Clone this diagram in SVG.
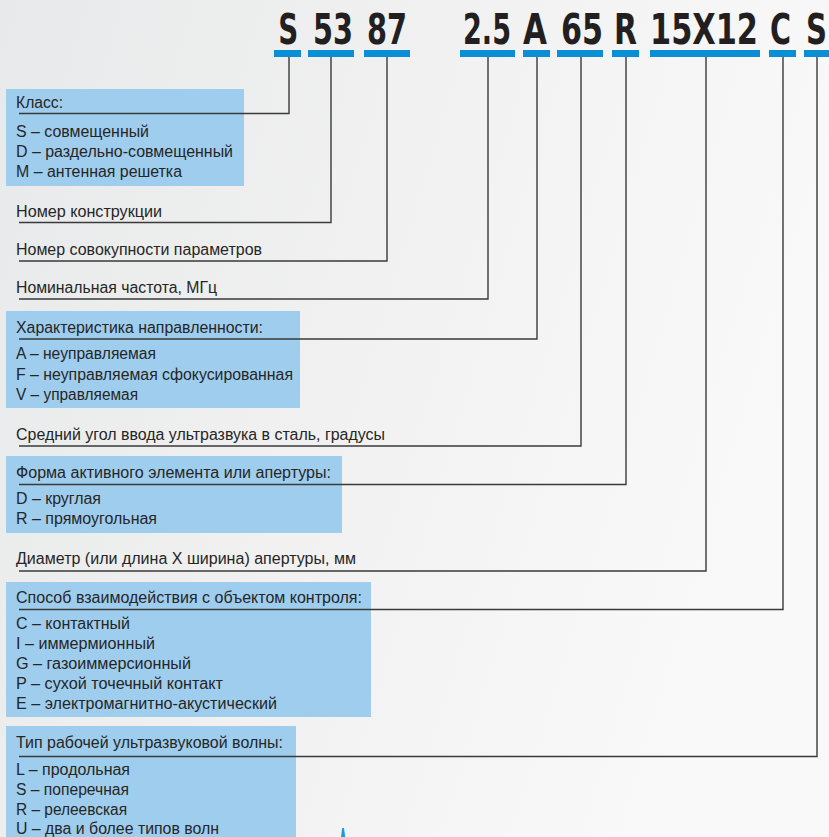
<svg xmlns="http://www.w3.org/2000/svg" width="829" height="837" viewBox="0 0 829 837">
<defs>
<linearGradient id="bg" x1="0" y1="0" x2="1" y2="0.3">
<stop offset="0" stop-color="#e8e9ea"/>
<stop offset="0.5" stop-color="#f1f1f1"/>
<stop offset="1" stop-color="#f9f9f9"/>
</linearGradient>
<style>
.hd{font-family:"Liberation Sans Narrow","DejaVu Sans Condensed","Liberation Sans",sans-serif;font-weight:bold;font-size:43px;fill:#231f20;text-anchor:middle}
.bar{fill:#0a8fd6}
.box{fill:#9fcdee}
.t{font-family:"Liberation Sans",Arial,sans-serif;font-size:16px;fill:#262626}
.c{fill:none;stroke:#3a3a3a;stroke-width:1.4}
</style>
</defs>
<rect width="829" height="837" fill="url(#bg)"/>

<g id="header">
<text class="hd" x="288.3" y="44" textLength="20" lengthAdjust="spacingAndGlyphs">S</text>
<text class="hd" x="333" y="44" textLength="40" lengthAdjust="spacingAndGlyphs">53</text>
<text class="hd" x="387" y="44" textLength="40" lengthAdjust="spacingAndGlyphs">87</text>
<text class="hd" x="487" y="44" textLength="48" lengthAdjust="spacingAndGlyphs">2.5</text>
<text class="hd" x="535" y="44" textLength="24" lengthAdjust="spacingAndGlyphs">A</text>
<text class="hd" x="582" y="44" textLength="42" lengthAdjust="spacingAndGlyphs">65</text>
<text class="hd" x="625.5" y="44" textLength="23" lengthAdjust="spacingAndGlyphs">R</text>
<text class="hd" x="704" y="44" textLength="108" lengthAdjust="spacingAndGlyphs">15X12</text>
<text class="hd" x="780.5" y="44" textLength="21" lengthAdjust="spacingAndGlyphs">C</text>
<text class="hd" x="816.5" y="44" textLength="21" lengthAdjust="spacingAndGlyphs">S</text>
<rect class="bar" x="274" y="50" width="27" height="7"/>
<rect class="bar" x="308" y="50" width="46" height="7"/>
<rect class="bar" x="364" y="50" width="46" height="7"/>
<rect class="bar" x="460" y="50" width="55" height="7"/>
<rect class="bar" x="523" y="50" width="27" height="7"/>
<rect class="bar" x="557" y="50" width="46" height="7"/>
<rect class="bar" x="612" y="50" width="27" height="7"/>
<rect class="bar" x="650" y="50" width="110" height="7"/>
<rect class="bar" x="769" y="50" width="27" height="7"/>
<rect class="bar" x="804" y="50" width="25" height="7"/>
</g>

<g id="node-class">
<rect class="box" x="6" y="89" width="238" height="97"/>
<text class="t" x="16" y="108" textLength="47" lengthAdjust="spacingAndGlyphs">Класс:</text>
<text class="t" x="16" y="137" textLength="133" lengthAdjust="spacingAndGlyphs">S – совмещенный</text>
<text class="t" x="16" y="157" textLength="217" lengthAdjust="spacingAndGlyphs">D – раздельно-совмещенный</text>
<text class="t" x="16" y="177" textLength="166" lengthAdjust="spacingAndGlyphs">M – антенная решетка</text>
</g>

<g id="node-construction">
<text class="t" x="16" y="216.5" textLength="146" lengthAdjust="spacingAndGlyphs">Номер конструкции</text>
</g>

<g id="node-params">
<text class="t" x="16" y="255" textLength="246" lengthAdjust="spacingAndGlyphs">Номер совокупности параметров</text>
</g>

<g id="node-frequency">
<text class="t" x="16" y="293" textLength="201" lengthAdjust="spacingAndGlyphs">Номинальная частота, МГц</text>
</g>

<g id="node-directivity">
<rect class="box" x="6" y="311" width="294" height="97"/>
<text class="t" x="16" y="333" textLength="247" lengthAdjust="spacingAndGlyphs">Характеристика направленности:</text>
<text class="t" x="16" y="359" textLength="140" lengthAdjust="spacingAndGlyphs">A – неуправляемая</text>
<text class="t" x="16" y="380" textLength="277" lengthAdjust="spacingAndGlyphs">F – неуправляемая сфокусированная</text>
<text class="t" x="16" y="400" textLength="122" lengthAdjust="spacingAndGlyphs">V – управляемая</text>
</g>

<g id="node-angle">
<text class="t" x="16" y="440" textLength="369" lengthAdjust="spacingAndGlyphs">Средний угол ввода ультразвука в сталь, градусы</text>
</g>

<g id="node-shape">
<rect class="box" x="6" y="456" width="336" height="77"/>
<text class="t" x="16" y="478" textLength="315" lengthAdjust="spacingAndGlyphs">Форма активного элемента или апертуры:</text>
<text class="t" x="16" y="504" textLength="85" lengthAdjust="spacingAndGlyphs">D – круглая</text>
<text class="t" x="16" y="524" textLength="141" lengthAdjust="spacingAndGlyphs">R – прямоугольная</text>
</g>

<g id="node-diameter">
<text class="t" x="16" y="564" textLength="340" lengthAdjust="spacingAndGlyphs">Диаметр (или длина X ширина) апертуры, мм</text>
</g>

<g id="node-coupling">
<rect class="box" x="6" y="582" width="365" height="135"/>
<text class="t" x="16" y="603" textLength="346" lengthAdjust="spacingAndGlyphs">Способ взаимодействия с объектом контроля:</text>
<text class="t" x="16" y="629" textLength="114" lengthAdjust="spacingAndGlyphs">C – контактный</text>
<text class="t" x="16" y="649" textLength="139" lengthAdjust="spacingAndGlyphs">I – иммермионный</text>
<text class="t" x="16" y="669" textLength="175" lengthAdjust="spacingAndGlyphs">G – газоиммерсионный</text>
<text class="t" x="16" y="689" textLength="207" lengthAdjust="spacingAndGlyphs">P – сухой точечный контакт</text>
<text class="t" x="16" y="709" textLength="261" lengthAdjust="spacingAndGlyphs">E – электромагнитно-акустический</text>
</g>

<g id="node-wave">
<rect class="box" x="6" y="726" width="290" height="111"/>
<text class="t" x="16" y="748" textLength="267" lengthAdjust="spacingAndGlyphs">Тип рабочей ультразвуковой волны:</text>
<text class="t" x="16" y="775" textLength="114" lengthAdjust="spacingAndGlyphs">L – продольная</text>
<text class="t" x="16" y="795" textLength="113" lengthAdjust="spacingAndGlyphs">S – поперечная</text>
<text class="t" x="16" y="815" textLength="111" lengthAdjust="spacingAndGlyphs">R – релеевская</text>
<text class="t" x="16" y="834" textLength="203" lengthAdjust="spacingAndGlyphs">U – два и более типов волн</text>
</g>

<g id="connectors">
<path class="c" d="M289,57 V113.5 H19"/>
<path class="c" d="M331,57 V222.5 H19"/>
<path class="c" d="M387,57 V261 H19"/>
<path class="c" d="M488,57 V299 H19"/>
<path class="c" d="M537,57 V339 H19"/>
<path class="c" d="M581,57 V446 H19"/>
<path class="c" d="M626,57 V484.5 H19"/>
<path class="c" d="M706,57 V571 H19"/>
<path class="c" d="M783,57 V609.5 H19"/>
<path class="c" d="M817,57 V756.5 H19"/>
</g>

<polygon points="342.2,828 344,828 345.2,837 341,837" fill="#1a9be0"/>
</svg>
